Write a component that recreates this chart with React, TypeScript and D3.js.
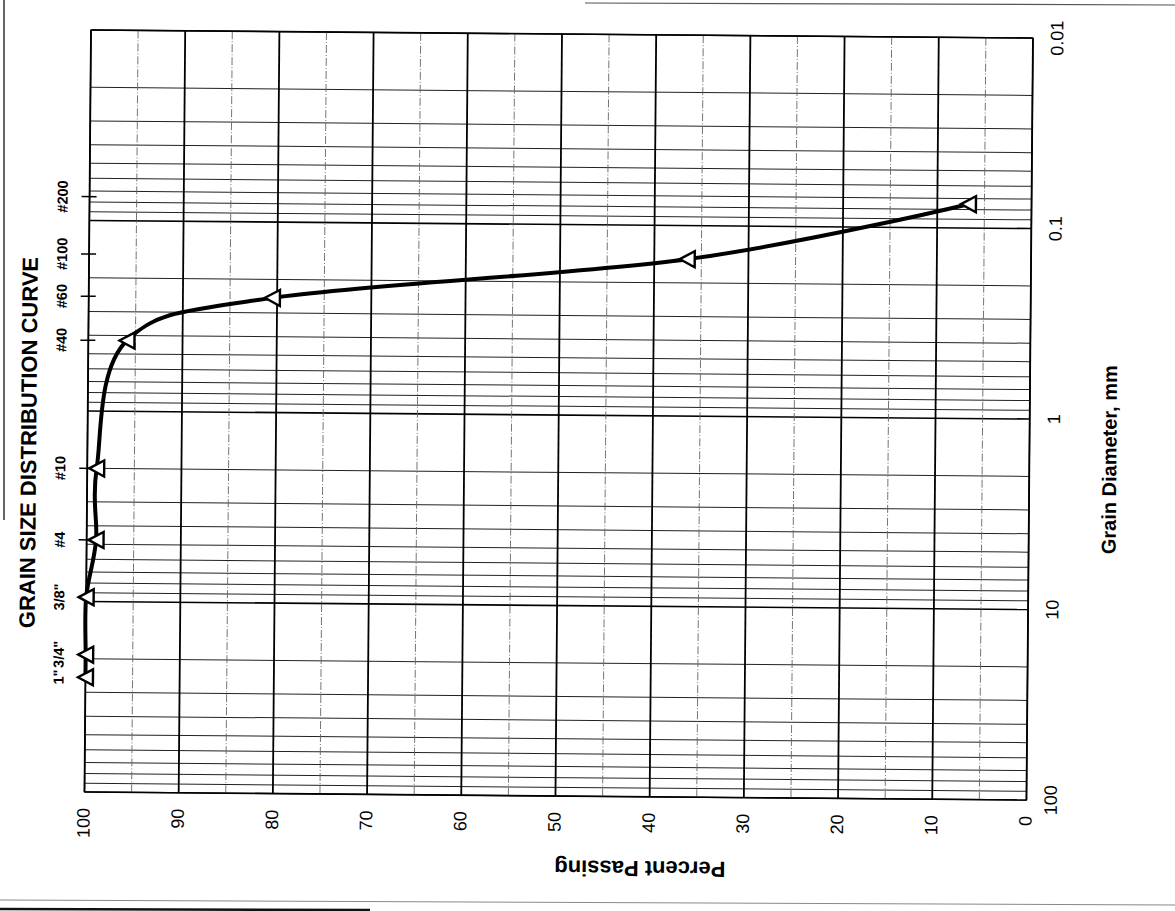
import React from "react";
import * as d3 from "d3";

// ---- Data ----
const sieveLabels = ['1"', '3/4"', '3/8"', "#4", "#10", "#40", "#60", "#100", "#200"];
const sieveSizes = [25, 19, 9.5, 4.75, 2.0, 0.425, 0.25, 0.15, 0.075];
const percentPassing = [100, 100, 100, 99.0, 99.0, 95.9, 80.5, 36.5, 6.7];
const percentTicks = [100, 90, 80, 70, 60, 50, 40, 30, 20, 10, 0];
const diameterTicks = [0.01, 0.1, 1, 10, 100];

const title = "GRAIN SIZE DISTRIBUTION CURVE";
const xTitle = "Percent Passing";
const yTitle = "Grain Diameter, mm";

const W = 1175;
const H = 911;
const left = 91;
const top = 30;
const pw = 942;
const ph = 762;
const FONT = "'Liberation Sans', Arial, Helvetica, sans-serif";

export default function App() {
  const x = d3.scaleLinear().domain([100, 0]).range([left, left + pw]);
  const y = d3.scaleLog().domain([0.01, 100]).range([top, top + ph]);

  const minorY = y.ticks();
  const decadeSet = new Set(diameterTicks.map((d) => d.toString()));
  const pctGrid = d3.range(0, 101, 5);

  const pts: [number, number][] = sieveSizes.map((s, i) => [x(percentPassing[i]), y(s)]);
  const line = d3.line().curve(d3.curveCardinal.tension(0))(pts) || "";

  const tri = "M-7.5,0L7.5,-8L7.5,8Z";

  return (
    <svg width={W} height={H} style={{ position: "absolute", left: 0, top: 0, background: "#fff" }}>
      {/* scan frame artifacts */}
      <line x1={4} y1={0} x2={4} y2={520} stroke="#333" strokeWidth={1.5} />
      <line x1={585} y1={3} x2={1175} y2={5} stroke="#555" strokeWidth={1.2} />
      <line x1={0} y1={900} x2={1175} y2={905} stroke="#888" strokeWidth={1} />
      <line x1={0} y1={909} x2={370} y2={910} stroke="#111" strokeWidth={2.5} />

      <g transform={`rotate(0.49, ${left}, ${top})`} fontFamily={FONT}>
        {/* horizontal log grid */}
        {minorY.map((v, i) => {
          const isDec = decadeSet.has(v.toString());
          return (
            <line
              key={"h" + i}
              x1={left}
              x2={left + pw}
              y1={y(v)}
              y2={y(v)}
              stroke={isDec ? "#000" : "#222"}
              strokeWidth={isDec ? 1.6 : 1}
            />
          );
        })}
        {/* vertical percent grid */}
        {pctGrid.map((p) =>
          p % 10 === 0 ? (
            <line key={"v" + p} x1={x(p)} x2={x(p)} y1={top} y2={top + ph} stroke="#000" strokeWidth={1.8} />
          ) : (
            <line
              key={"v" + p}
              x1={x(p)}
              x2={x(p)}
              y1={top}
              y2={top + ph}
              stroke="#666"
              strokeWidth={0.9}
              strokeDasharray="8,2,1,2"
            />
          )
        )}
        {/* plot border */}
        <rect x={left} y={top} width={pw} height={ph} fill="none" stroke="#000" strokeWidth={1.3} />

        {/* sieve ticks and labels */}
        {sieveSizes.map((s, i) => (
          <g key={"s" + i}>
            <line x1={left - 8} x2={left + 7} y1={y(s)} y2={y(s)} stroke="#000" strokeWidth={1.5} />
            <text
              transform={`translate(64, ${y(s)}) rotate(-90)`}
              textAnchor="middle"
              dy="0.35em"
              fontSize={14.5}
              fontWeight="bold"
            >
              {sieveLabels[i]}
            </text>
          </g>
        ))}

        {/* curve */}
        <path d={line} fill="none" stroke="#000" strokeWidth={4} strokeLinejoin="round" />
        {pts.map((p, i) => (
          <path key={"m" + i} d={tri} transform={`translate(${p[0]}, ${p[1]})`} fill="#fff" stroke="#000" strokeWidth={2.4} />
        ))}

        {/* percent tick labels */}
        {percentTicks.map((p) => (
          <text
            key={"pt" + p}
            transform={`translate(${x(p) - 1}, ${top + ph + 16}) rotate(-90)`}
            textAnchor="end"
            dy="0.35em"
            fontSize={18}
          >
            {p}
          </text>
        ))}

        {/* diameter tick labels */}
        {diameterTicks.map((d) => (
          <text
            key={"dt" + d}
            transform={`translate(${left + pw + 24}, ${y(d)}) rotate(-90)`}
            textAnchor="middle"
            dy="0.35em"
            fontSize={18}
          >
            {d}
          </text>
        ))}

        {/* titles */}
        <text transform={`translate(32, 443) rotate(-90)`} textAnchor="middle" dy="0.35em" fontSize={22} fontWeight="bold">
          {title}
        </text>
        <text transform={`translate(1113, 451) rotate(-90)`} textAnchor="middle" dy="0.35em" fontSize={20} fontWeight="bold">
          {yTitle}
        </text>
        <text transform={`translate(647, 864) rotate(180)`} textAnchor="middle" dy="0.35em" fontSize={22} fontWeight="bold">
          {xTitle}
        </text>
      </g>
    </svg>
  );
}
